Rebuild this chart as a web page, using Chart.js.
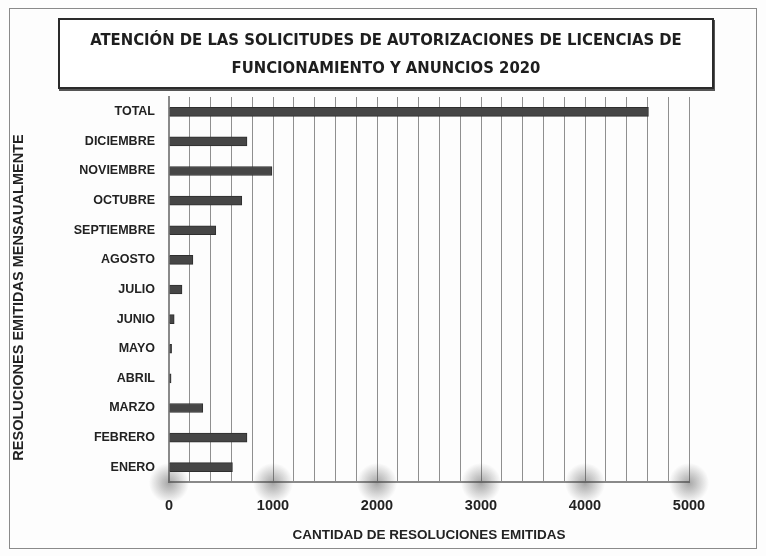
<!DOCTYPE html>
<html lang="es">
<head>
<meta charset="utf-8">
<title>Atención de las solicitudes 2020</title>
<script src="https://cdn.jsdelivr.net/npm/chart.js@4/dist/chart.umd.min.js"></script>
<style>
    html, body { margin: 0; padding: 0; background: #fff; }
    #page { position: relative; width: 766px; height: 556px; overflow: hidden; background: #fdfdfd; }
    #marco { position: absolute; left: 9px; top: 8px; width: 748px; height: 541px; border: 1px solid #8a8a8a; box-sizing: border-box; }
    #titulo {
        position: absolute; left: 58px; top: 18px; width: 656px; height: 71px;
        border: 2px solid #2a2a2a; box-sizing: border-box; background: #fff;
        box-shadow: 1px 2px 0 #555;
        display: flex; align-items: center; justify-content: center; text-align: center;
        font-family: "Liberation Sans Narrow", "DejaVu Sans Condensed", "Open Sans", sans-serif;
        font-weight: bold; font-size: 16.5px; line-height: 28px; color: #1e1e1e;
    }
    #grafico { position: absolute; left: 0; top: 0; }
</style>
</head>
<body>
<div id="page">
    <div id="marco"></div>
    <canvas id="grafico" width="766" height="556"></canvas>
    <div id="titulo">ATENCIÓN DE LAS SOLICITUDES DE AUTORIZACIONES DE LICENCIAS DE<br>FUNCIONAMIENTO Y ANUNCIOS 2020</div>
</div>
<script>
// resoluciones emitidas por mes (de arriba hacia abajo)
const meses = ['TOTAL', 'DICIEMBRE', 'NOVIEMBRE', 'OCTUBRE', 'SEPTIEMBRE', 'AGOSTO', 'JULIO',
    'JUNIO', 'MAYO', 'ABRIL', 'MARZO', 'FEBRERO', 'ENERO'];
const resoluciones = [4610, 750, 990, 700, 450, 230, 125, 50, 25, 20, 325, 750, 610];
const marcasX = [0, 1000, 2000, 3000, 4000, 5000];
const tituloY = 'RESOLUCIONES EMITIDAS MENSAUALMENTE';

// manchas difusas sobre el eje inferior en cada marca principal
const manchasEje = {
    id: 'manchasEje',
    afterDraw(chart) {
        const ctx = chart.ctx;
        const x = chart.scales.x;
        const y0 = chart.chartArea.bottom;
        ctx.save();
        marcasX.forEach(v => {
            const px = x.getPixelForValue(v);
            const g = ctx.createRadialGradient(px, y0 + 1, 0, px, y0 + 1, 20);
            g.addColorStop(0, 'rgba(60,60,60,0.45)');
            g.addColorStop(1, 'rgba(60,60,60,0)');
            ctx.fillStyle = g;
            ctx.fillRect(px - 22, y0 - 21, 44, 44);
        });
        ctx.restore();
    }
};

// título vertical del eje de meses, algo más abajo que el centro del área
const tituloVertical = {
    id: 'tituloVertical',
    afterDraw(chart) {
        const ctx = chart.ctx;
        const area = chart.chartArea;
        ctx.save();
        ctx.translate(19, (area.top + area.bottom) / 2 + 8);
        ctx.rotate(-Math.PI / 2);
        ctx.font = 'bold 14.5px "Liberation Sans"';
        ctx.fillStyle = '#222';
        ctx.textAlign = 'center';
        ctx.textBaseline = 'middle';
        ctx.fillText(tituloY, 0, 0);
        ctx.restore();
    }
};

new Chart(document.getElementById('grafico'), {
    type: 'bar',
    data: {
        labels: meses,
        datasets: [{
            data: resoluciones,
            backgroundColor: '#464646',
            borderColor: '#2e2e2e',
            borderWidth: 1,
            barThickness: 9
        }]
    },
    options: {
        indexAxis: 'y',
        responsive: false,
        animation: false,
        layout: { padding: { left: 10, top: 97, right: 77, bottom: 9 } },
        plugins: { legend: { display: false }, tooltip: { enabled: false } },
        scales: {
            x: {
                min: 0, max: 5000,
                afterFit(s) { s.height = 65; },
                ticks: {
                    stepSize: 200,
                    autoSkip: false,
                    maxRotation: 0,
                    padding: 15,
                    color: '#222',
                    font: { family: 'Liberation Sans', weight: 'bold', size: 14.5 },
                    callback: v => marcasX.includes(v) ? v : ''
                },
                grid: { color: '#8f8f8f', lineWidth: 1, drawTicks: false },
                border: { color: '#8a8a8a', width: 2 },
                title: {
                    display: true,
                    text: 'CANTIDAD DE RESOLUCIONES EMITIDAS',
                    color: '#222',
                    font: { family: 'Liberation Sans', weight: 'bold', size: 13.5 },
                    padding: { top: 10 }
                }
            },
            y: {
                afterFit(s) { s.width = 159; },
                ticks: {
                    padding: 14,
                    color: '#222',
                    font: { family: 'Liberation Sans', weight: 'bold', size: 12.5 }
                },
                grid: { color: 'transparent', drawTicks: false },
                border: { color: '#8a8a8a', width: 2 }
            }
        }
    },
    plugins: [manchasEje, tituloVertical]
});
</script>
</body>
</html>
